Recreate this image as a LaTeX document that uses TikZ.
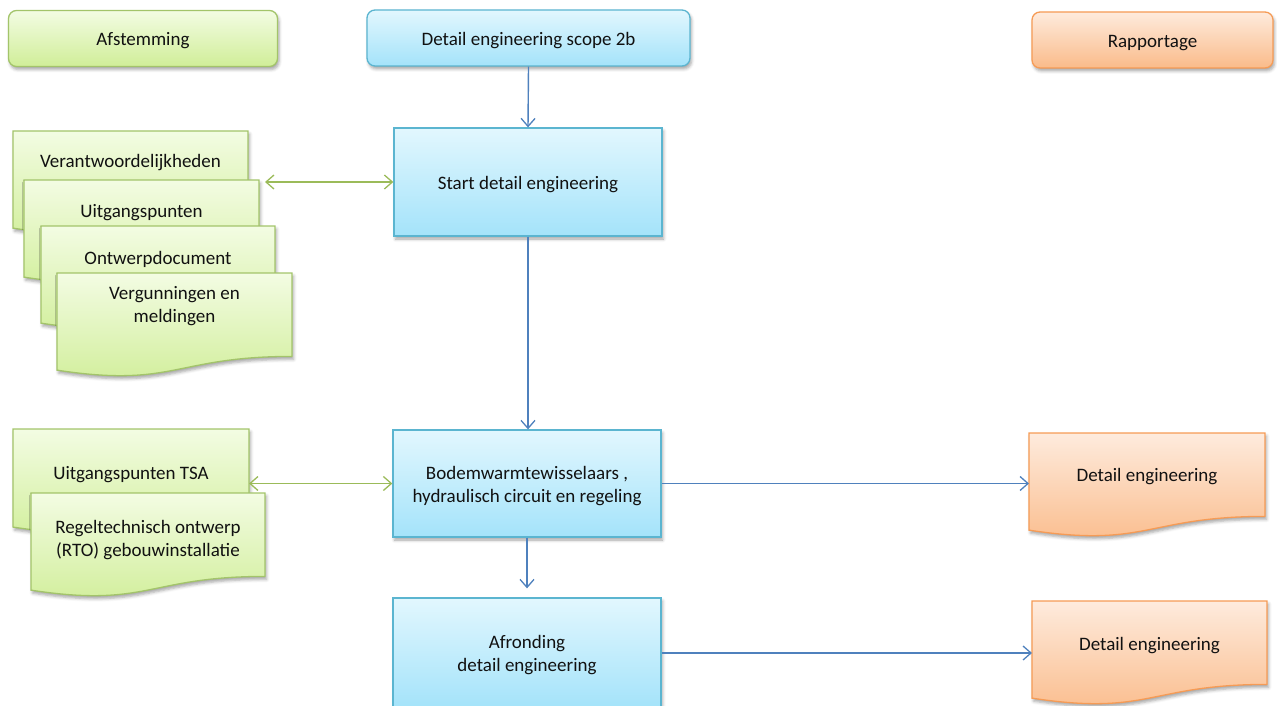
\documentclass[tikz,border=0pt]{standalone}
\usepackage{fontspec}
\setmainfont{Carlito}
\usetikzlibrary{arrows.meta,shadows.blur,calc}
\definecolor{bluetop}{HTML}{E2F7FE}
\definecolor{bluebot}{HTML}{A4E3FA}
\definecolor{blueline}{HTML}{5BB5D0}
\definecolor{greentop}{HTML}{F3FCE3}
\definecolor{greenbot}{HTML}{D0EE98}
\definecolor{greenline}{HTML}{A3C46A}
\definecolor{orangetop}{HTML}{FEEBDD}
\definecolor{orangebot}{HTML}{FABB8A}
\definecolor{orangeline}{HTML}{F69B55}
\definecolor{arrowblue}{HTML}{4F81BD}
\definecolor{arrowgreen}{HTML}{9BBB59}
\definecolor{txtcol}{HTML}{111111}
\tikzset{
  shad/.style={blur shadow={shadow xshift=1.5pt,shadow yshift=-3pt,shadow blur radius=3pt,shadow opacity=35}},
  bluefill/.style={shad,top color=bluetop,bottom color=bluebot,draw=blueline,line width=1.3pt},
  greenfill/.style={shad,top color=greentop,bottom color=greenbot,draw=greenline,line width=1.3pt},
  orangefill/.style={shad,top color=orangetop,bottom color=orangebot,draw=orangeline,line width=1.3pt},
  txt/.style={align=center,inner sep=0pt,text=txtcol,font=\fontsize{19}{23}\selectfont},
  bluebox/.style={bluefill,txt,rectangle,minimum width=268,minimum height=108},
  headbox/.style={txt,rectangle,rounded corners=8pt,minimum height=56},
  barrow/.style={draw=arrowblue,line width=1.4pt,-{Straight Barb[length=8pt,width=14pt,line width=1.3pt]}},
  garrow/.style={draw=arrowgreen,line width=1.4pt,{Straight Barb[length=8pt,width=14pt,line width=1.3pt]}-{Straight Barb[length=8pt,width=14pt,line width=1.3pt]}}
}
\newcommand\lowered[1]{\raisebox{-2.5pt}[\height][\depth]{\begin{tabular}{@{}c@{}}#1\end{tabular}}}
% name, x, ytop, w, h, style, text offset, text
\newcommand\mkdoc[8]{%
  \path[#6] (#2,#3) coordinate (#1 nw) -- ++(#4,0) coordinate (#1 ne) -- ++(0,{0.802*#5})
    .. controls ({#2+0.5*#4},{#3+0.802*#5}) and ({#2+0.5*#4},{#3+1.1075*#5}) .. (#2,{#3+0.934*#5}) -- cycle;
  \node[txt] (#1) at ({#2+0.5*#4},{#3+#7}) {#8};}
\begin{document}
\begin{tikzpicture}[x=1pt,y=-1pt]
\useasboundingbox (0,0) rectangle (1277,706);
% header boxes
\node[headbox,greenfill,minimum width=269] (afst) at (143,38.5) {\lowered{Afstemming}};
\node[headbox,bluefill,minimum width=323] (scope) at (528.5,38) {\lowered{Detail engineering scope 2b}};
\node[headbox,orangefill,minimum width=241] (rapp) at (1152.5,40) {\lowered{Rapportage}};
% main process boxes
\node[bluebox] (start) at (528,182) {\lowered{Start detail engineering}};
\node[bluebox,minimum height=107] (bodem) at (527,483.5) {\lowered{Bodemwarmtewisselaars ,\\hydraulisch circuit en regeling}};
\node[bluebox,minimum height=110] (afr) at (527,653) {\lowered{Afronding\\detail engineering}};
% left documents
\mkdoc{verant}{13}{131}{235}{104}{greenfill}{32}{Verantwoordelijkheden}
\mkdoc{uitg}{24}{180}{235}{104}{greenfill}{33}{Uitgangspunten}
\mkdoc{ontw}{41}{226}{234}{104}{greenfill}{33}{Ontwerpdocument}
\mkdoc{verg}{57}{273}{235}{104}{greenfill}{33}{Vergunningen en\\meldingen}
\mkdoc{tsa}{13}{429}{236}{105}{greenfill}{46}{Uitgangspunten TSA}
\mkdoc{regel}{31}{493}{234}{104}{greenfill}{47}{Regeltechnisch ontwerp\\(RTO) gebouwinstallatie}
% right documents
\mkdoc{de1}{1029}{433}{236}{104}{orangefill}{44}{Detail engineering}
\mkdoc{de2}{1032}{601}{235}{104}{orangefill}{45}{Detail engineering}
% connectors
\draw[barrow] (scope.south) -- (start.north);
\draw[barrow] (start.south) -- (start.south |- bodem.north);
\draw[barrow,shorten >=9pt] (bodem.south) -- (afr.north);
\draw[barrow] (bodem.east) -- (bodem.east -| de1 nw);
\draw[barrow] (afr.east) -- (afr.east -| de2 nw);
\coordinate (ga) at (265,182);
\draw[garrow] (ga) -- (start.west);
\draw[garrow] (bodem.west -| tsa ne) -- (bodem.west);
\end{tikzpicture}
\end{document}
